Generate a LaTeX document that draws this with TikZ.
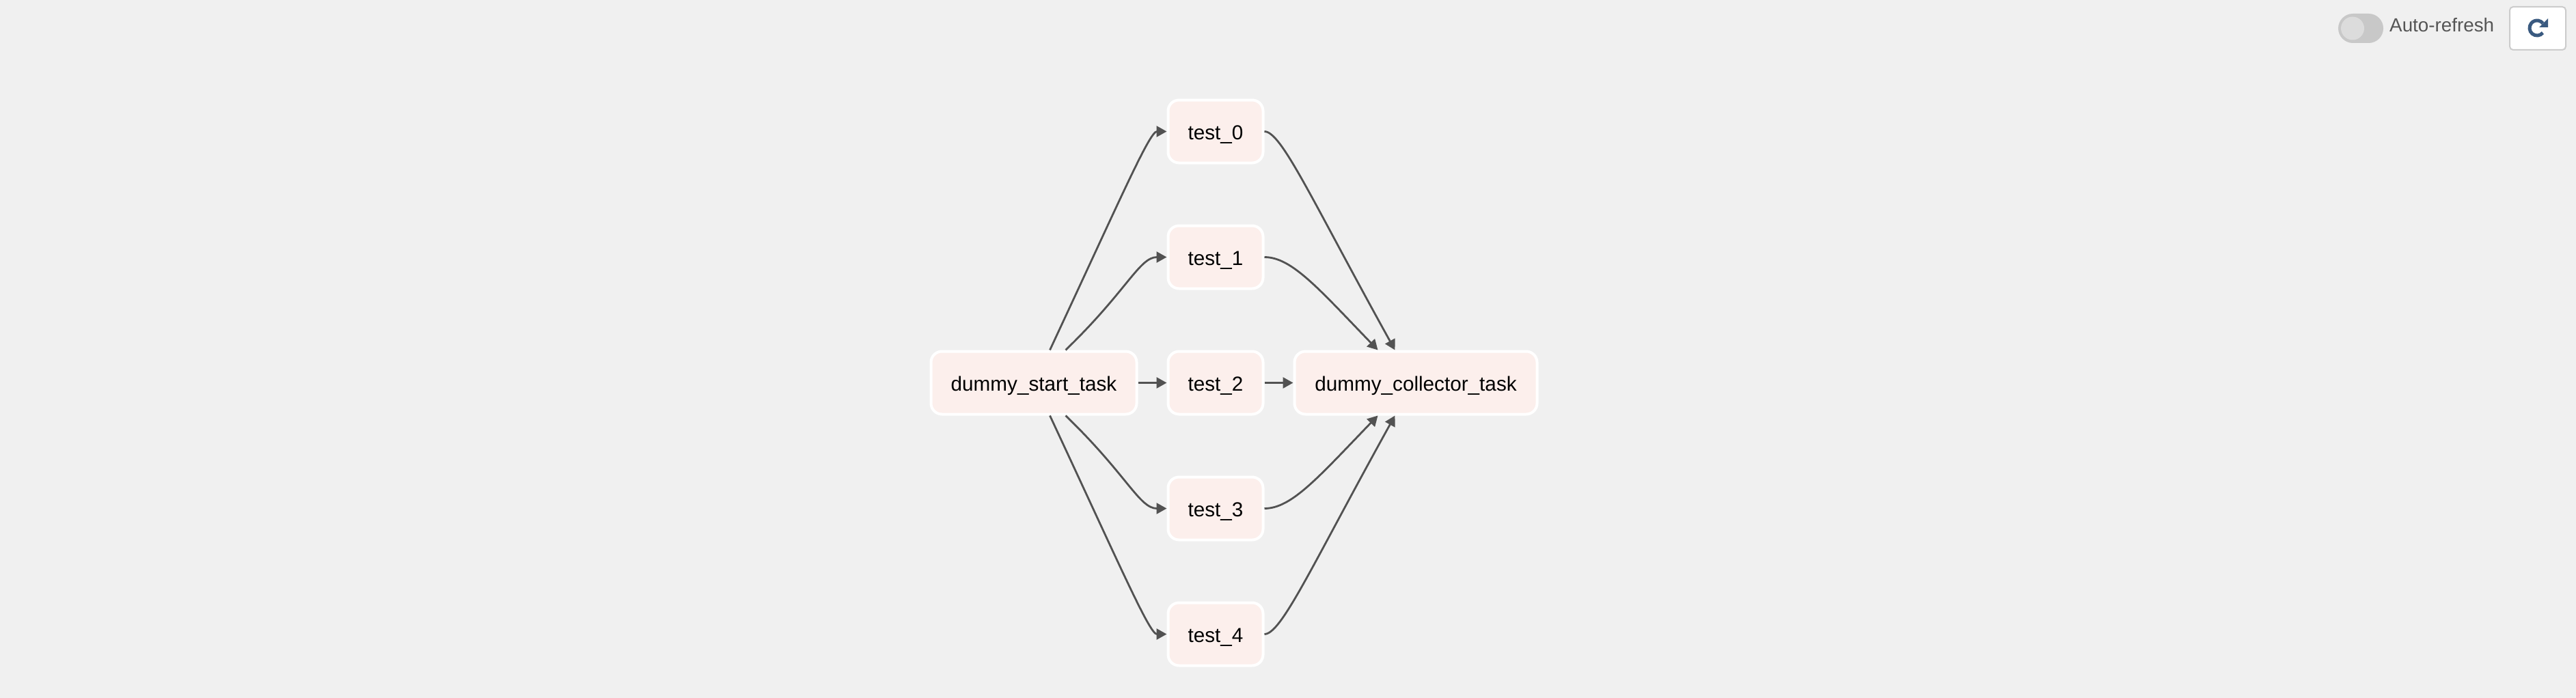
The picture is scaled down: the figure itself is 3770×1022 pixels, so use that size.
\documentclass[tikz,border=0pt]{standalone}
\usepackage{fontspec}
\setmainfont{Liberation Sans}
\usetikzlibrary{arrows.meta}
\definecolor{canvas}{HTML}{F0F0F0}
\definecolor{taskpink}{HTML}{FCEFEC}
\definecolor{edgegray}{HTML}{525252}
\definecolor{togglegray}{HTML}{C8C8C8}
\definecolor{knobgray}{HTML}{DCDCDC}
\definecolor{labelgray}{HTML}{555555}
\definecolor{btnborder}{HTML}{CCCCCC}
\definecolor{iconblue}{HTML}{3A5A80}
\newcommand\taskfont{\fontsize{29.7pt}{36pt}\selectfont}
\tikzset{
  task/.style={
    % The shape:
    shape=rectangle,rounded corners=16pt,
    % The size:
    minimum height=92pt,
    % The border:
    line width=4pt,
    draw=white,
    % The filling:
    fill=taskpink,
    % The text:
    font=\taskfont, text height=29pt, text depth=6pt
  },
  dep/.style={
    line width=2.8pt, draw=edgegray,
    -{Triangle[length=15pt,width=16pt]}
  }}

\begin{document}
\begin{tikzpicture}[x=1pt,y=1pt]
	\fill[canvas] (0,0) rectangle (3770,-1022);
	\useasboundingbox (0,0) rectangle (3770,-1022);
	\matrix (dag) at (1806,-560.5) [column sep=42pt, row sep=88pt]{
		& \node[task,minimum width=139pt] (test0) {test\_0}; \\
		& \node[task,minimum width=139pt] (test1) {test\_1}; \\
		\node[task,minimum width=301pt] (start) {dummy\_start\_task}; &
		\node[task,minimum width=139pt] (test2) {test\_2}; &
		\node[task,minimum width=355pt] (collector) {dummy\_collector\_task}; \\
		& \node[task,minimum width=139pt] (test3) {test\_3}; \\
		& \node[task,minimum width=139pt] (test4) {test\_4}; \\
	};
	% fan out
	\draw[dep] ([xshift=23.5pt]start.north) .. controls +(65:250) and +(-25,0) .. (test0.west);
	\draw[dep] ([xshift=46.5pt]start.north) .. controls +(44:125) and +(-40,0) .. (test1.west);
	\draw[dep] (start) -- (test2);
	\draw[dep] ([xshift=46.5pt]start.south) .. controls +(-44:125) and +(-40,0) .. (test3.west);
	\draw[dep] ([xshift=23.5pt]start.south) .. controls +(-65:250) and +(-25,0) .. (test4.west);
	% fan in
	\draw[dep] (test0.east) .. controls +(25,0) and +(119:250) .. ([xshift=-30.5pt]collector.north);
	\draw[dep] (test1.east) .. controls +(40,0) and +(134:125) .. ([xshift=-55.5pt]collector.north);
	\draw[dep] (test2) -- (collector);
	\draw[dep] (test3.east) .. controls +(40,0) and +(-134:125) .. ([xshift=-55.5pt]collector.south);
	\draw[dep] (test4.east) .. controls +(25,0) and +(-119:250) .. ([xshift=-30.5pt]collector.south);
	% auto-refresh toggle and button
	\fill[togglegray,rounded corners=21.5pt] (3422,-20) rectangle (3488,-63);
	\fill[knobgray] (3443,-41.5) circle[radius=17];
	\node[anchor=base west,inner sep=0pt,text=labelgray,font=\fontsize{27.8pt}{33pt}\selectfont] (autorefresh) at (3497,-46.7) {Auto-refresh};
	\draw[fill=white,draw=btnborder,line width=2pt,rounded corners=5pt] (3673,-10) rectangle (3755,-73);
	\draw[iconblue,line width=5pt] (3713,-41) ++(-40:11) arc[start angle=-40,end angle=-322,radius=11];
	\fill[iconblue] (3716,-40) -- (3729,-27) -- (3729,-40) -- cycle;
\end{tikzpicture}
\end{document}
